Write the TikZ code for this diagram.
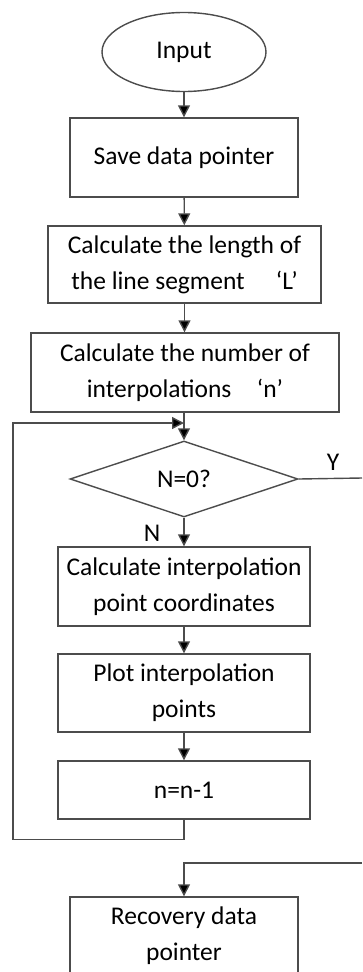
\documentclass[tikz,border=0pt]{standalone}
\usepackage{fontspec}
\setmainfont{Carlito}
\usetikzlibrary{shapes.geometric,arrows.meta}
\begin{document}
\begin{tikzpicture}[x=1pt,y=-1pt,
  every node/.style={font=\fontsize{25.5}{36}\selectfont, text=black},
  line/.style={draw=black!70, line width=1.4pt},
  arr/.style={line, -{Triangle[length=12pt,width=12pt,fill=black]}},
  box/.style={line, rectangle, inner sep=0pt, align=center},
  lbl/.style={inner sep=0pt}]
\useasboundingbox (0,0) rectangle (362,972);
\clip (0,0) rectangle (362,972);
\node[line, ellipse, minimum width=164pt, minimum height=79pt, inner sep=0pt] (in) at (184,52) {Input};
\node[box, minimum width=228pt, minimum height=79pt] (b1) at (184,157.5) {Save data pointer};
\node[box, minimum width=273pt, minimum height=77pt] (b2) at (184.5,264.5) {Calculate the length of\\the line segment\quad\ ‘L’};
\node[box, minimum width=308pt, minimum height=79pt] (b3) at (185,372.5) {Calculate the number of\\interpolations\quad ‘n’};
\node[line, diamond, minimum width=228pt, minimum height=76pt, inner sep=0pt, aspect=3] (d) at (184,479) {N=0?};
\node[box, minimum width=252pt, minimum height=79pt] (b4) at (184,586.5) {Calculate interpolation\\point coordinates};
\node[box, minimum width=252pt, minimum height=78pt] (b5) at (184,693) {Plot interpolation\\points};
\node[box, minimum width=252pt, minimum height=58pt] (b6) at (184,790) {n=n-1};
\node[box, minimum width=228pt, minimum height=78pt] (b7) at (184,936) {Recovery data\\pointer};
\node[lbl] (y) at (333,462) {Y};
\node[lbl] (n) at (152,533) {N};
\coordinate (j) at (184,423);
\coordinate (yr) at (362,478);
\coordinate (yb) at (362,863);
\coordinate (m) at (184,863);
\draw[arr] (in) -- (b1);
\draw[arr] (b1) -- (b2);
\draw[arr] (b2) -- (b3.north -| b2.south);
\draw[arr] (b3.south -| d.north) -- (d.north);
\draw[arr] (d) -- (b4);
\draw[arr] (b4) -- (b5);
\draw[arr] (b5) -- (b6);
\draw[arr] (b6.south) -- ++(0,20) -| (13,423) -- (j);
\draw[line] (d.east) -- (yr);
\draw[arr] (yb) -- (m) -- (b7.north);
\end{tikzpicture}
\end{document}
